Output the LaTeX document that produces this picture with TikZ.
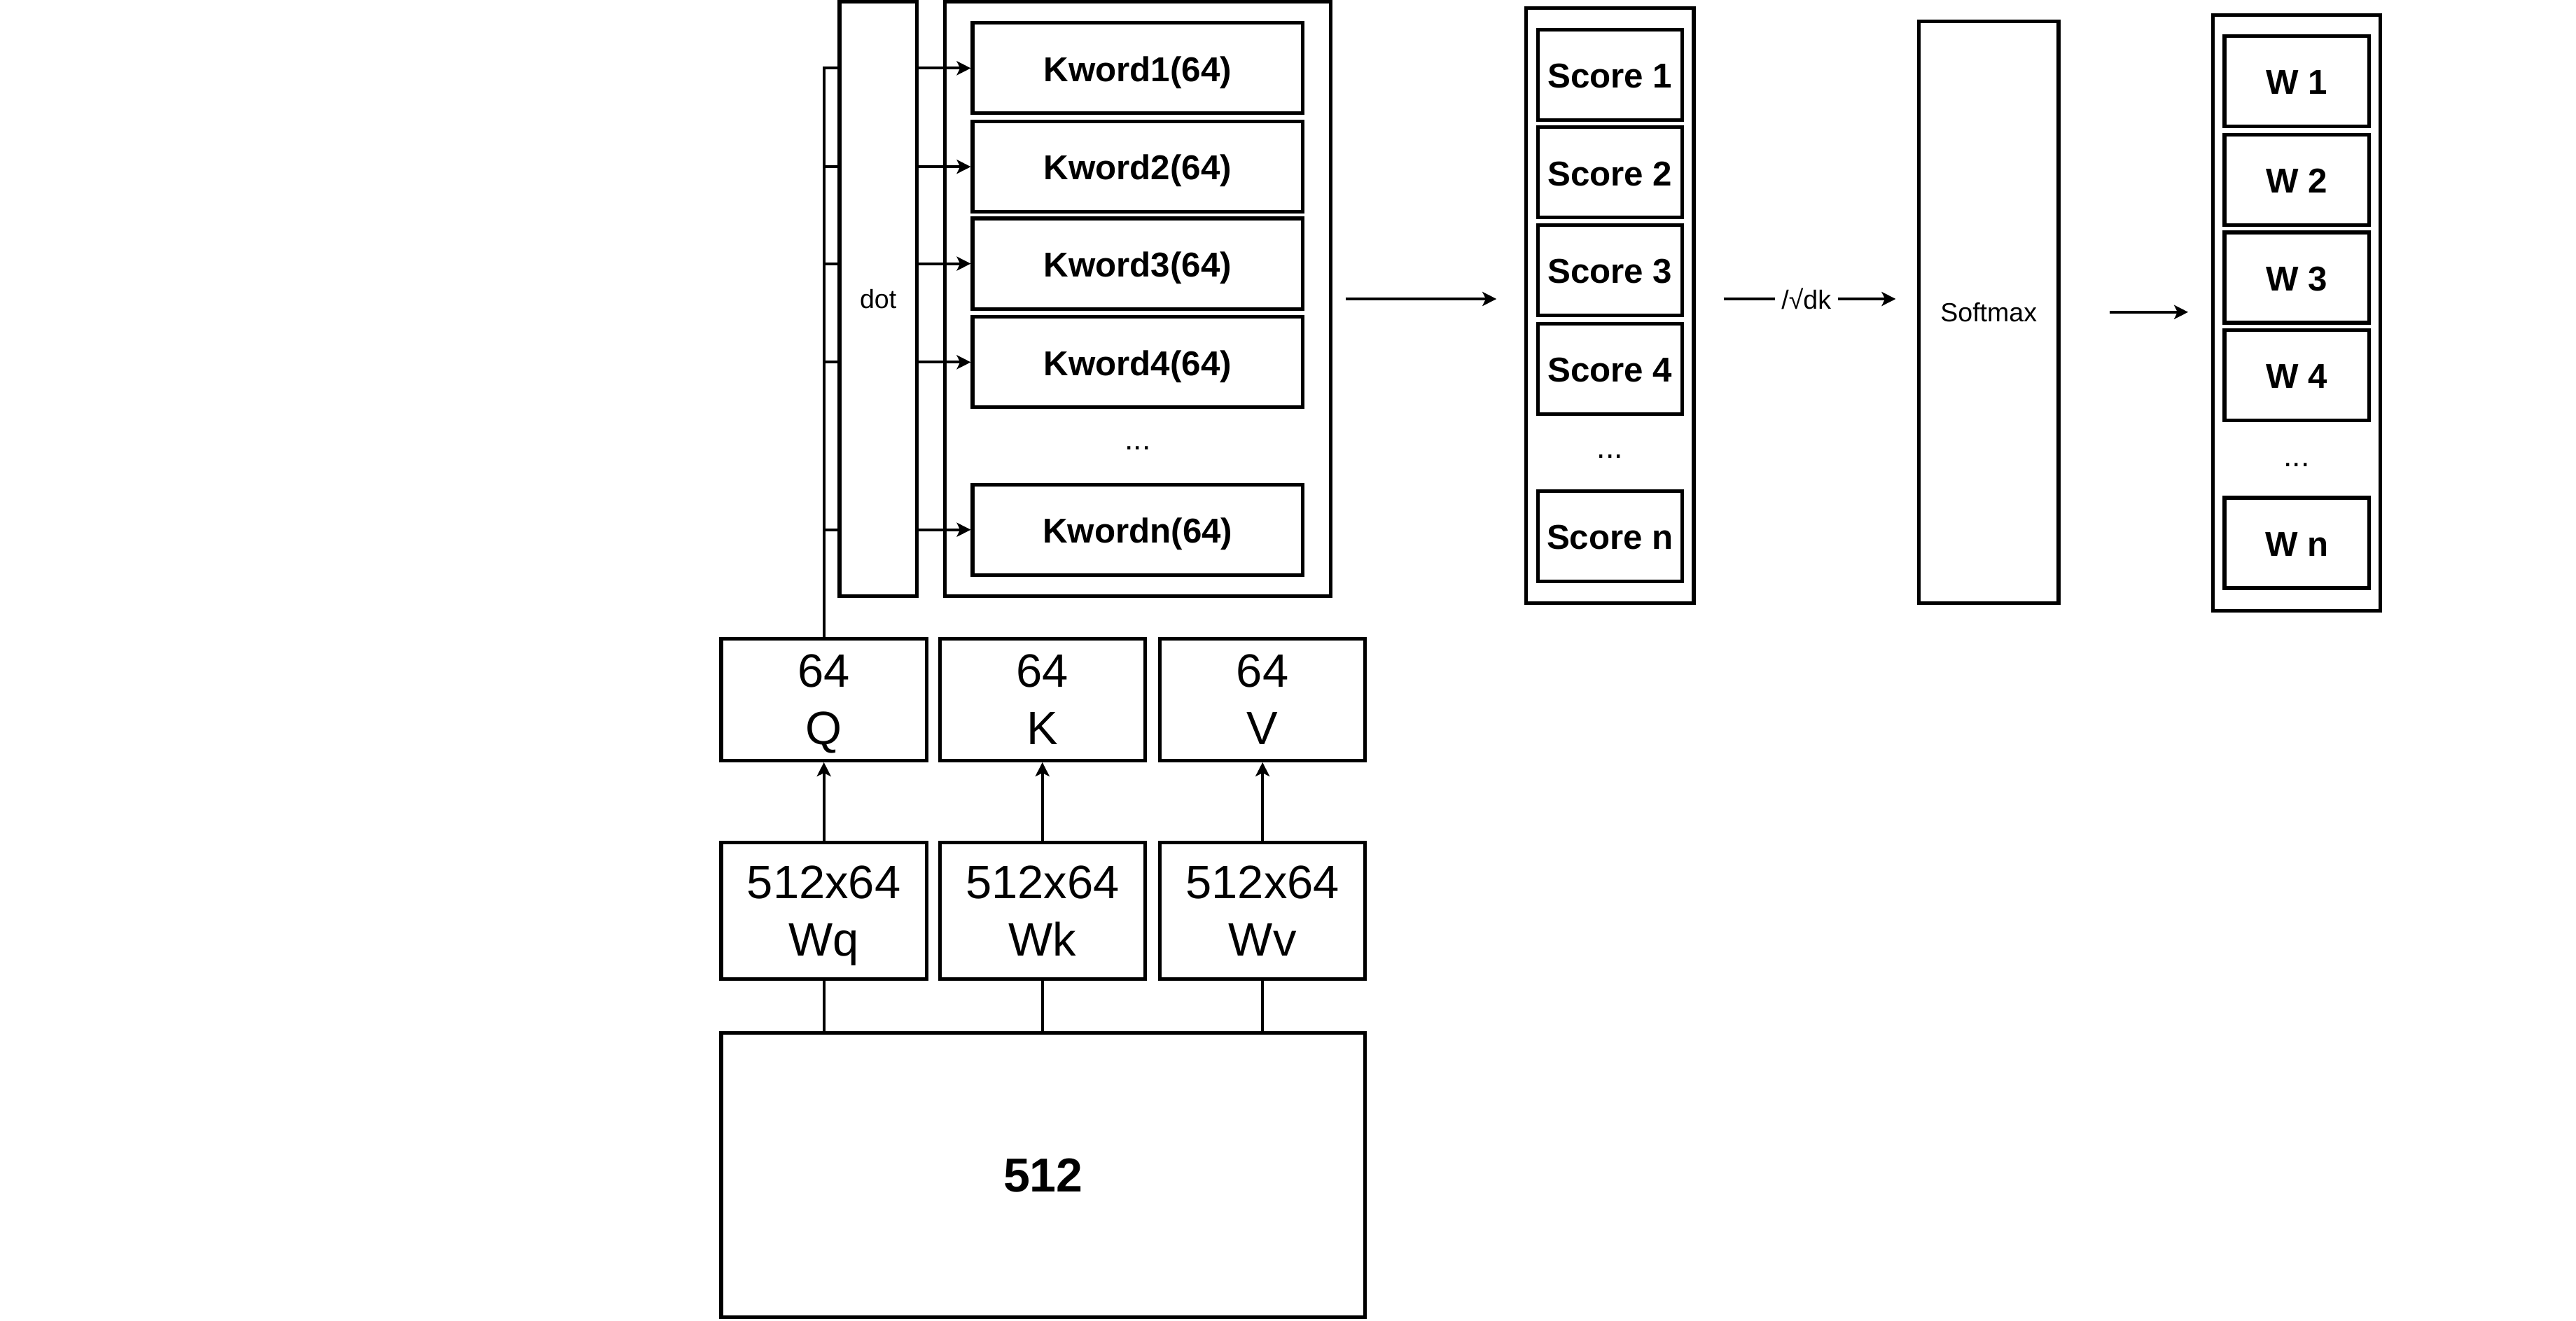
\documentclass[tikz,border=0pt]{standalone}
\usepackage{fontspec}
\setmainfont{Liberation Sans}
\usetikzlibrary{arrows.meta}
\begin{document}
\begin{tikzpicture}[x=1pt,y=-1pt,
  bx/.style={draw, line width=2.2pt, inner sep=0pt, align=center},
  kbox/.style={bx, minimum width=201pt, minimum height=55pt, text height=18pt, text depth=2pt, font=\fontsize{21}{25}\selectfont\bfseries},
  sbox/.style={bx, minimum width=88pt, minimum height=55pt, text height=18pt, text depth=2pt, font=\fontsize{21}{25}\selectfont\bfseries},
  mbox/.style={bx, minimum width=125pt, font=\fontsize{28.5}{35}\selectfont},
  small/.style={font=\fontsize{16}{19}\selectfont},
  dotsty/.style={font=\fontsize{19}{22}\selectfont, inner sep=0pt},
  ln/.style={line width=1.7pt},
  arr/.style={line width=1.7pt, -{Stealth[length=8.5pt,width=8.5pt,inset=2pt]}}
]
\useasboundingbox (0,0) rectangle (1568,804);
% dot and K column
\node[bx, minimum width=47pt, minimum height=362pt, small] (dot) at (534.5,182) {dot};
\node[bx, minimum width=235pt, minimum height=362pt] (kouter) at (692.5,182) {};
\node[kbox] (k1) at (692.5,41.5) {Kword1(64)};
\node[kbox] (k2) at (692.5,101.5) {Kword2(64)};
\node[kbox] (k3) at (692.5,160.5) {Kword3(64)};
\node[kbox] (k4) at (692.5,220.5) {Kword4(64)};
\node[dotsty] (kd) at (692.5,273) {...};
\node[kbox] (kn) at (692.5,322.5) {Kwordn(64)};
% Score column
\node[bx, minimum width=102pt, minimum height=362pt] (souter) at (980,186) {};
\node[sbox] (s1) at (980,45.5) {Score 1};
\node[sbox] (s2) at (980,105) {Score 2};
\node[sbox] (s3) at (980,164.5) {Score 3};
\node[sbox] (s4) at (980,224.5) {Score 4};
\node[dotsty] (sd) at (980,278) {...};
\node[sbox] (sn) at (980,326.5) {Score n};
% Softmax
\node[bx, minimum width=85pt, minimum height=354pt, small] (soft) at (1210.5,190) {Softmax};
% W column
\node[bx, minimum width=102pt, minimum height=363pt] (wouter) at (1398,190.5) {};
\node[sbox] (w1) at (1398,49.5) {W 1};
\node[sbox] (w2) at (1398,109.5) {W 2};
\node[sbox] (w3) at (1398,169) {W 3};
\node[sbox] (w4) at (1398,228.5) {W 4};
\node[dotsty] (wd) at (1398,283) {...};
\node[sbox] (wn) at (1398,330.5) {W n};
% Q K V
\node[mbox, minimum height=74pt] (q) at (501.5,426) {64\\\smash{Q}};
\node[mbox, minimum height=74pt] (k) at (634.5,426) {64\\K};
\node[mbox, minimum height=74pt] (v) at (768.5,426) {64\\V};
\node[mbox, minimum height=83pt] (wq) at (501.5,554.5) {512x64\\W\smash{q}};
\node[mbox, minimum height=83pt] (wk) at (634.5,554.5) {512x64\\Wk};
\node[mbox, minimum height=83pt] (wv) at (768.5,554.5) {512x64\\Wv};
\node[bx, minimum width=392pt, minimum height=173pt, font=\fontsize{29}{35}\selectfont\bfseries] (inp) at (635,715.5) {512};
% connectors from Q to dot
\draw[ln] (q.north) |- (dot.west |- k1.west);
\foreach \r in {k2,k3,k4,kn}{
  \draw[ln] (q.north |- \r.west) -- (dot.west |- \r.west);
}
\foreach \r in {k1,k2,k3,k4,kn}{
  \draw[arr] (dot.east |- \r.west) -- (\r.west);
}
% horizontal flow
\draw[arr, shorten <=8pt, shorten >=17pt] (kouter.east) -- (kouter.east -| souter.west);
\draw[arr, shorten <=17pt, shorten >=13pt] (souter.east |- kouter.east) -- node[fill=white, small, inner xsep=4pt, inner ysep=2pt] (lbl) {/√dk} (soft.west |- kouter.east);
\draw[arr, shorten <=30pt, shorten >=14pt] (soft.east) -- (soft.east -| wouter.west);
% bottom connectors
\draw[arr] (wq.north) -- (q.south);
\draw[arr] (wk.north) -- (k.south);
\draw[arr] (wv.north) -- (v.south);
\draw[ln] (wq.south) -- (wq.south |- inp.north);
\draw[ln] (wk.south) -- (wk.south |- inp.north);
\draw[ln] (wv.south) -- (wv.south |- inp.north);
\end{tikzpicture}
\end{document}
